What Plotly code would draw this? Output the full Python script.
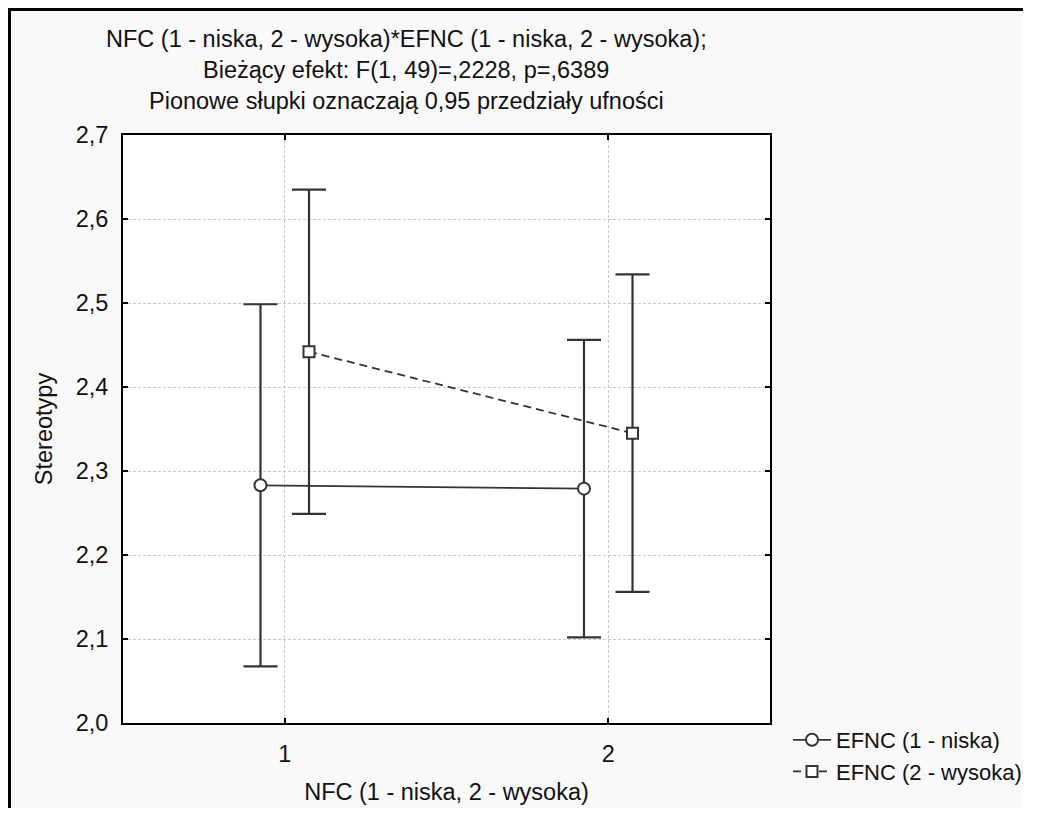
import plotly.graph_objects as go

# ---- data ----
nfc_levels = [1, 2]
efnc1_means = [2.283, 2.279]
efnc1_ci_half = [0.2155, 0.177]
efnc2_means = [2.442, 2.345]
efnc2_ci_half = [0.193, 0.189]
series_names = ["EFNC (1 - niska)", "EFNC (2 - wysoka)"]
y_ticks = [2.0, 2.1, 2.2, 2.3, 2.4, 2.5, 2.6, 2.7]
y_tick_labels = ["2,0", "2,1", "2,2", "2,3", "2,4", "2,5", "2,6", "2,7"]
x_tick_labels = ["1", "2"]
title_lines = [
    "NFC (1 - niska, 2 - wysoka)*EFNC (1 - niska, 2 - wysoka);",
    "Bieżący efekt: F(1, 49)=,2228, p=,6389",
    "Pionowe słupki oznaczają 0,95 przedziały ufności",
]
x_title = "NFC (1 - niska, 2 - wysoka)"
y_title = "Stereotypy"

DODGE = 0.075
INK = "#333333"
FONT = "Liberation Sans, Arial, Helvetica, sans-serif"
FS = 23.5
LEG_FS = 22.0

# figure sized so the page (with the browser's 8px body margin) needs no scrollbars
W, H = 1015, 800
L, T, PW, PH = 115, 127, 647, 588
R, B = W - L - PW, H - T - PH


def px_x(x):
    return (x - L) / PW


def px_y(y):
    return (T + PH - y) / PH


fig = go.Figure()
fig.add_trace(go.Scatter(
    x=[v - DODGE for v in nfc_levels], y=efnc1_means, name=series_names[0],
    mode="lines+markers",
    line=dict(color=INK, width=1.8),
    marker=dict(symbol="circle", size=12, color="white", line=dict(color=INK, width=2)),
    error_y=dict(type="data", array=efnc1_ci_half, symmetric=True,
                 color=INK, thickness=2.2, width=17),
))
fig.add_trace(go.Scatter(
    x=[v + DODGE for v in nfc_levels], y=efnc2_means, name=series_names[1],
    mode="lines+markers",
    line=dict(color=INK, width=1.8, dash="8px,5px"),
    marker=dict(symbol="square", size=11, color="white", line=dict(color=INK, width=2)),
    error_y=dict(type="data", array=efnc2_ci_half, symmetric=True,
                 color=INK, thickness=2.2, width=17),
))

# outer frame: grey fill, black top and left edges (right/bottom lie off-page in the reference)
fig.add_shape(type="rect", xref="paper", yref="paper",
              x0=px_x(0), x1=px_x(W + 40), y0=px_y(H + 40), y1=px_y(0),
              line=dict(width=0), fillcolor="#f9f9f9", layer="below")
fig.add_shape(type="line", xref="paper", yref="paper",
              x0=px_x(0), x1=px_x(W + 40), y0=px_y(1.5), y1=px_y(1.5),
              line=dict(color="black", width=3), layer="below")
fig.add_shape(type="line", xref="paper", yref="paper",
              x0=px_x(1.5), x1=px_x(1.5), y0=px_y(0), y1=px_y(H + 40),
              line=dict(color="black", width=3), layer="below")
fig.add_shape(type="rect", xref="paper", yref="paper", x0=0, x1=1, y0=0, y1=1,
              line=dict(width=0), fillcolor="white", layer="below")

title_y_px = [31, 62, 93]
for txt, ypx in zip(title_lines, title_y_px):
    fig.add_annotation(text=txt, xref="paper", yref="paper",
                       x=px_x(398), y=px_y(ypx),
                       xanchor="center", yanchor="middle", showarrow=False,
                       font=dict(family=FONT, size=FS, color="#111"))

axis_common = dict(
    showline=True, linecolor="black", linewidth=2, mirror="ticks",
    ticks="inside", ticklen=5, tickcolor="black", tickwidth=1.5,
    showgrid=True, gridcolor="#c8c8c8", griddash="3px,2px", gridwidth=1,
    zeroline=False, tickfont=dict(family=FONT, size=FS, color="#111"),
)

fig.update_xaxes(range=[0.5, 2.5], tickvals=nfc_levels, ticktext=x_tick_labels,
                 ticklabelstandoff=9,
                 title=dict(text=x_title, standoff=17, font=dict(family=FONT, size=FS, color="#111")),
                 **axis_common)
fig.update_yaxes(range=[2.0, 2.7], tickvals=y_ticks, ticktext=y_tick_labels,
                 ticklabelstandoff=8,
                 title=dict(text=y_title, standoff=16, font=dict(family=FONT, size=FS, color="#111")),
                 **axis_common)

fig.update_layout(
    width=W, height=H,
    margin=dict(l=L, r=R, t=T, b=B, autoexpand=False),
    paper_bgcolor="white", plot_bgcolor="white",
    font=dict(family=FONT, size=FS, color="#111"),
    showlegend=True,
    legend=dict(x=1 + 18 / PW, y=px_y(T + PH - 4), xanchor="left", yanchor="top",
                bgcolor="rgba(0,0,0,0)", font=dict(family=FONT, size=LEG_FS, color="#111"),
                itemwidth=38, tracegroupgap=0),
)

fig.write_html("out.html")
